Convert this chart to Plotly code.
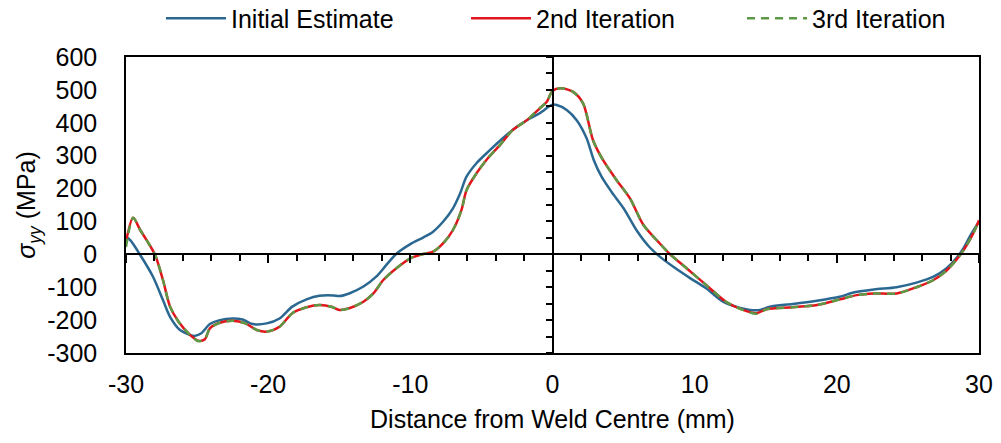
import plotly.graph_objects as go

# Distance from weld centre (mm) and longitudinal stress (MPa) for each estimate
x_initial = [-30.0, -29.7, -29.0, -28.1, -27.4, -26.9, -26.2, -25.2, -24.7, -24.1, -23.4,
             -22.5, -21.8, -21.1, -20.1, -19.2, -18.3, -17.3, -16.4, -15.4, -15.0, -14.3,
             -13.3, -12.4, -11.7, -11.0, -10.0, -9.1, -8.4, -7.7, -7.0, -6.5, -6.05, -5.35,
             -4.4, -3.5, -2.5, -1.6, -0.9, -0.2, 0.0, 0.3, 1.0, 1.7, 2.4, 2.9, 3.45, 4.15,
             5.0, 5.9, 6.8, 7.55, 8.5, 9.7, 10.8, 12.0, 12.9, 13.9, 14.6, 15.3, 16.9, 18.6,
             20.2, 21.1, 22.6, 24.2, 25.6, 26.8, 27.7, 28.4, 28.9, 29.35, 30.0]
y_initial = [53, 43, -2, -68, -139, -190, -230, -248, -240, -212, -200,
             -195, -198, -212, -210, -195, -159, -137, -126, -125, -127, -119,
             -98, -68, -33, 1, 31, 51, 69, 99, 140, 185, 236, 277,
             317, 353, 388, 413, 429, 451, 455, 454, 439, 408, 353, 287, 236, 190,
             140, 74, 23, -7, -38, -73, -103, -144, -159, -169, -169, -159, -151, -141,
             -129, -117, -107, -100, -86, -68, -43, -12, 18, 54, 99]

x_second = [-30.0, -29.5, -29.0, -28.55, -27.95, -27.4, -26.9, -26.3, -25.5, -24.9, -24.45,
            -24.1, -23.4, -22.5, -21.6, -20.8, -20.1, -19.2, -18.3, -17.3, -16.4, -15.5,
            -15.0, -14.3, -13.3, -12.6, -11.9, -11.0, -10.0, -9.1, -8.4, -7.7, -7.0, -6.4,
            -6.05, -5.35, -4.65, -3.7, -2.8, -1.8, -0.9, -0.4, 0.0, 0.6, 1.45, 2.15, 2.85,
            3.55, 4.5, 5.45, 6.4, 7.55, 8.25, 9.45, 10.8, 12.2, 13.4, 14.35, 15.05, 16.9,
            18.6, 20.2, 21.4, 22.6, 24.2, 25.6, 26.8, 27.7, 28.4, 29.0, 29.6, 30.0]
y_second = [38, 111, 74, 43, -2, -78, -159, -205, -245, -263, -258,
            -225, -208, -202, -210, -230, -235, -220, -179, -161, -154, -160,
            -169, -164, -144, -119, -78, -43, -12, 1, 8, 33, 74, 135,
            195, 246, 287, 332, 378, 408, 444, 464, 497, 505, 494, 459, 347,
            287, 226, 170, 89, 33, 1, -43, -93, -144, -169, -179, -167, -161,
            -154, -137, -124, -119, -119, -100, -78, -50, -17, 18, 64, 104]

x_third = list(x_second)
y_third = [22, 111, 74, 43, -2, -78, -159, -205, -245, -264, -258,
           -225, -208, -202, -210, -230, -235, -220, -179, -161, -154, -160,
           -169, -164, -144, -119, -78, -43, -12, 1, 8, 33, 74, 135,
           195, 246, 287, 332, 378, 408, 444, 464, 497, 505, 494, 459, 347,
           287, 226, 170, 89, 33, 1, -43, -93, -144, -169, -181, -167, -161,
           -154, -137, -124, -119, -119, -100, -78, -50, -17, 18, 64, 104]

x_ticks = [-30, -20, -10, 0, 10, 20, 30]
x_tick_text = ["-30", "-20", "-10", "0", "10", "20", "30"]
y_ticks = [-300, -200, -100, 0, 100, 200, 300, 400, 500, 600]
y_tick_text = ["-300", "-200", "-100", "0", "100", "200", "300", "400", "500", "600"]

FONT = "Liberation Sans, Arial, sans-serif"
X_RANGE = [-30, 30]
Y_RANGE = [-300, 600]

fig = go.Figure()
fig.add_trace(go.Scatter(x=x_initial, y=y_initial, mode="lines", name="Initial Estimate",
                         legend="legend",
                         line=dict(color="#2B6891", width=2.5, shape="spline", smoothing=0.8)))
fig.add_trace(go.Scatter(x=x_second, y=y_second, mode="lines", name="2nd Iteration",
                         legend="legend2",
                         line=dict(color="#E0161C", width=2.5, shape="spline", smoothing=0.8)))
fig.add_trace(go.Scatter(x=x_third, y=y_third, mode="lines", name="3rd Iteration",
                         legend="legend3",
                         line=dict(color="#5C9A45", width=2.5, dash="8px,6px",
                                   shape="spline", smoothing=0.8)))
# empty trace that carries the axes crossing at the origin
fig.add_trace(go.Scatter(x=[None], y=[None], xaxis="x2", yaxis="y2",
                         showlegend=False, hoverinfo="skip"))

zero_y_frac = (0 - Y_RANGE[0]) / (Y_RANGE[1] - Y_RANGE[0])
zero_x_frac = (0 - X_RANGE[0]) / (X_RANGE[1] - X_RANGE[0])


def legend_box(x):
    # one entry per box, laid out along the top edge
    return dict(orientation="h", x=x, xanchor="left", y=1.13, yanchor="middle",
                font=dict(size=25), itemwidth=60, bgcolor="rgba(0,0,0,0)")


fig.update_layout(
    width=1001, height=443,
    margin=dict(l=126, r=22, t=57, b=90, autoexpand=False),
    paper_bgcolor="white", plot_bgcolor="white",
    font=dict(family=FONT, size=25, color="#000000"),
    showlegend=True,
    legend=legend_box(0.041),
    legend2=legend_box(0.3986),
    legend3=legend_box(0.7222),
    xaxis=dict(range=X_RANGE, tickvals=x_ticks, ticktext=x_tick_text,
               showgrid=False, zeroline=False,
               showline=True, mirror=True, linecolor="#000000", linewidth=1.5,
               ticks="", tickfont=dict(size=25), ticklabelstandoff=8, automargin=False,
               title=dict(text="Distance from Weld Centre (mm)", font=dict(size=25), standoff=14)),
    yaxis=dict(range=Y_RANGE, tickvals=y_ticks, ticktext=y_tick_text,
               showgrid=False, zeroline=False,
               showline=True, mirror=True, linecolor="#000000", linewidth=1.5,
               ticks="", tickfont=dict(size=25), ticklabelstandoff=22, automargin=False,
               title=dict(text="<i>σ<sub>yy</sub></i> (MPa)", font=dict(size=25), standoff=4)),
    xaxis2=dict(overlaying="x", range=X_RANGE, anchor="free", position=zero_y_frac,
                side="bottom", showgrid=False, zeroline=False, showticklabels=False,
                showline=True, linecolor="#000000", linewidth=1.5, automargin=False,
                ticks="outside", tick0=0, dtick=10, ticklen=8, tickwidth=1.5, tickcolor="#000000",
                minor=dict(ticks="outside", dtick=2, ticklen=6, tickwidth=1.5, tickcolor="#000000")),
    yaxis2=dict(overlaying="y", range=Y_RANGE, anchor="free", position=zero_x_frac,
                side="left", showgrid=False, zeroline=False, showticklabels=False,
                showline=True, linecolor="#000000", linewidth=1.5, automargin=False,
                ticks="outside", tick0=0, dtick=50, ticklen=6, tickwidth=1.5, tickcolor="#000000"),
)

fig.write_html("out.html")
